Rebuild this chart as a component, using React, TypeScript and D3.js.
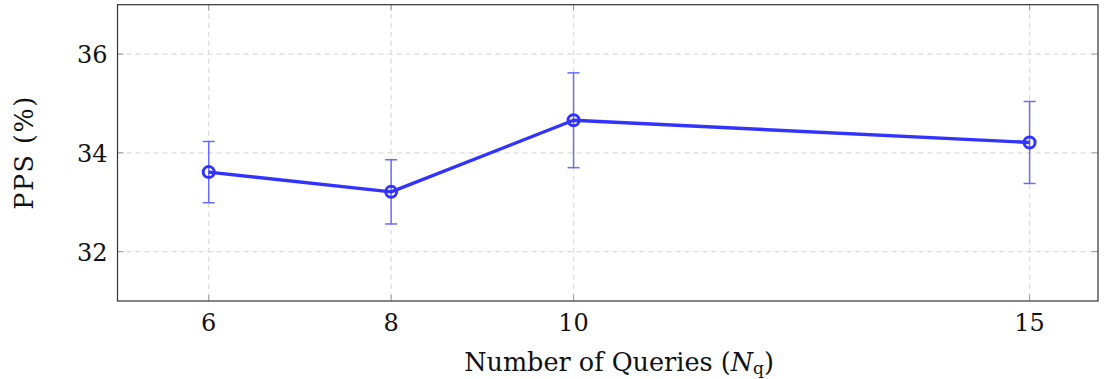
import React from "react";
import * as d3 from "d3";

const queries = [6, 8, 10, 15];
const pps = [33.61, 33.21, 34.66, 34.21];
const errPlus = [0.62, 0.65, 0.96, 0.83];
const errMinus = [0.62, 0.65, 0.96, 0.83];
const xTicks = [6, 8, 10, 15];
const yTicks = [32, 34, 36];

const W = 1116;
const H = 379;
const M = { left: 117.5, right: 1098, top: 4.7, bottom: 301 };
const FONT = "DejaVu Serif";

export default function App() {
  const x = d3.scaleLinear().domain([5, 15.75]).range([M.left, M.right]);
  const y = d3.scaleLinear().domain([31, 37]).range([M.bottom, M.top]);
  const pts = queries.map((q, i) => ({ q, v: pps[i], hi: pps[i] + errPlus[i], lo: pps[i] - errMinus[i] }));
  const line = d3.line<any>().x((d) => x(d.q)).y((d) => y(d.v));
  const lineColor = "#3333ff";
  const errColor = "#6a6aff";
  return (
    <svg width={W} height={H} style={{ position: "absolute", left: 0, top: 0, background: "#fff" }}>
      {xTicks.map((t) => (
        <line key={"gx" + t} x1={x(t)} x2={x(t)} y1={M.top} y2={M.bottom} stroke="#dcdcdc" strokeWidth={1.2} strokeDasharray="5 4" />
      ))}
      {yTicks.map((t) => (
        <line key={"gy" + t} x1={M.left} x2={M.right} y1={y(t)} y2={y(t)} stroke="#dcdcdc" strokeWidth={1.2} strokeDasharray="5 4" />
      ))}
      {xTicks.map((t) => (
        <g key={"tx" + t}>
          <line x1={x(t)} x2={x(t)} y1={M.bottom} y2={M.bottom - 6} stroke="#999" strokeWidth={1} />
          <line x1={x(t)} x2={x(t)} y1={M.top} y2={M.top + 6} stroke="#999" strokeWidth={1} />
          <text x={x(t)} y={M.bottom + 29.5} textAnchor="middle" fontFamily={FONT} fontSize={24} fill="#111">{t}</text>
        </g>
      ))}
      {yTicks.map((t) => (
        <g key={"ty" + t}>
          <line x1={M.left} x2={M.left + 6} y1={y(t)} y2={y(t)} stroke="#999" strokeWidth={1} />
          <line x1={M.right} x2={M.right - 6} y1={y(t)} y2={y(t)} stroke="#999" strokeWidth={1} />
          <text x={M.left - 10} y={y(t) + 9} textAnchor="end" fontFamily={FONT} fontSize={24} fill="#111">{t}</text>
        </g>
      ))}
      <rect x={M.left} y={M.top} width={M.right - M.left} height={M.bottom - M.top} fill="none" stroke="#333" strokeWidth={1.2} />
      {pts.map((p) => (
        <g key={"e" + p.q} stroke={errColor} strokeWidth={1.5}>
          <line x1={x(p.q)} x2={x(p.q)} y1={y(p.hi)} y2={y(p.lo)} />
          <line x1={x(p.q) - 6} x2={x(p.q) + 6} y1={y(p.hi)} y2={y(p.hi)} />
          <line x1={x(p.q) - 6} x2={x(p.q) + 6} y1={y(p.lo)} y2={y(p.lo)} />
        </g>
      ))}
      <path d={line(pts) || ""} fill="none" stroke={lineColor} strokeWidth={3.4} strokeLinejoin="round" />
      {pts.map((p) => (
        <circle key={"c" + p.q} cx={x(p.q)} cy={y(p.v)} r={5.5} fill="none" stroke={lineColor} strokeWidth={3} />
      ))}
      <text x={619} y={371} textAnchor="middle" fontFamily={FONT} fontSize={25.5} fill="#111">
        Number of Queries (<tspan fontStyle="italic">N</tspan>
        <tspan fontSize={17} dy={3}>q</tspan>
        <tspan dy={-3}>)</tspan>
      </text>
      <text transform={`translate(32.5,${152.5}) rotate(-90)`} textAnchor="middle" fontFamily={FONT} fontSize={25.5} letterSpacing={1.5} fill="#111">
        PPS (%)
      </text>
    </svg>
  );
}
